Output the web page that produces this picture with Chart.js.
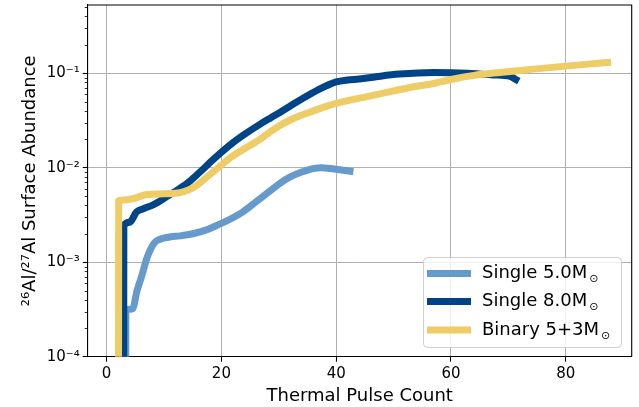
<!DOCTYPE html>
<html lang="en">
<head>
<meta charset="UTF-8">
<title>26Al/27Al surface abundance</title>
<script src="https://cdn.jsdelivr.net/npm/chart.js"></script>
<style>
  html, body { margin: 0; padding: 0; background: #fff; }
  #wrap { width: 639px; height: 407px; position: relative; }
</style>
</head>
<body>
<div id="wrap"><canvas id="grafico"></canvas></div>
<script>
// surface 26Al/27Al against thermal pulse number, one pair of arrays per model
const single5X = [3.3, 3.35, 4.5, 5.3, 6.1, 7.0, 7.6, 8.3, 9.3, 11.0, 12.8, 15.0, 17.4, 19.5, 21.5, 24.0, 26.1, 28.0, 30.2, 32.0, 34.0, 36.0, 37.5, 39.0, 42.4];
const single5Y = [1e-6, 3.1e-4, 3.2e-4, 5.0e-4, 7.1e-4, 1.1e-3, 1.35e-3, 1.6e-3, 1.75e-3, 1.85e-3, 1.9e-3, 2.0e-3, 2.2e-3, 2.5e-3, 2.85e-3, 3.5e-3, 4.4e-3, 5.4e-3, 6.85e-3, 8.0e-3, 9.0e-3, 9.8e-3, 1.0e-2, 9.8e-3, 9.2e-3];

const single8X = [2.95, 3.0, 4.0, 5.2, 6.5, 8.1, 10.5, 12.5, 14.5, 16.5, 18.5, 21.5, 24.0, 26.7, 28.5, 30.2, 33.7, 37.0, 40.0, 42.0, 44.0, 47.0, 51.0, 57.0, 63.0, 67.3, 70.3, 71.3];
const single8Y = [1e-6, 2.45e-3, 2.65e-3, 3.4e-3, 3.7e-3, 4.05e-3, 4.95e-3, 5.9e-3, 7.2e-3, 9.3e-3, 1.21e-2, 1.74e-2, 2.25e-2, 2.88e-2, 3.35e-2, 3.85e-2, 5.2e-2, 6.75e-2, 8.1e-2, 8.5e-2, 8.7e-2, 9.2e-2, 9.8e-2, 1.02e-1, 1.0e-1, 9.6e-2, 9.3e-2, 8.6e-2];

const binaryX = [2.05, 2.1, 3.0, 4.5, 7.0, 10.0, 12.8, 14.5, 15.7, 17.5, 19.7, 21.5, 23.8, 26.7, 28.5, 30.2, 32.0, 33.7, 37.0, 40.0, 45.0, 50.0, 54.0, 57.0, 60.0, 64.0, 68.5, 74.0, 80.0, 84.0, 87.3];
const binaryY = [1e-6, 4.5e-3, 4.55e-3, 4.7e-3, 5.2e-3, 5.3e-3, 5.45e-3, 5.9e-3, 6.5e-3, 8.0e-3, 1.03e-2, 1.27e-2, 1.56e-2, 2.0e-2, 2.4e-2, 2.8e-2, 3.2e-2, 3.55e-2, 4.2e-2, 4.8e-2, 5.6e-2, 6.5e-2, 7.3e-2, 7.8e-2, 8.6e-2, 9.5e-2, 1.02e-1, 1.1e-1, 1.19e-1, 1.25e-1, 1.3e-1];

const seriesNames = ['Single 5.0M', 'Single 8.0M', 'Binary 5+3M'];
const seriesColors = ['#6699CC', '#004488', '#EECC66'];

const xTicks = [0, 20, 40, 60, 80];
const yTicks = [1e-4, 1e-3, 1e-2, 1e-1];
const yTickLabels = ['10⁻⁴', '10⁻³', '10⁻²', '10⁻¹'];

const FONT = '"DejaVu Sans", "Liberation Sans", sans-serif';

function toPoints(xs, ys) {
  return xs.map((x, i) => ({ x: x, y: ys[i] }));
}

// minor log ticks, the top/right frame and the legend box
const extras = {
  id: 'extras',
  afterDraw(chart) {
    const ctx = chart.ctx;
    const a = chart.chartArea;
    const y = chart.scales.y;
    ctx.save();

    ctx.strokeStyle = '#000';
    ctx.lineWidth = 0.8;
    for (let d = -4; d <= -1; d++) {
      for (let m = 2; m <= 9; m++) {
        const v = m * Math.pow(10, d);
        if (v > y.max) break;
        const py = Math.round(y.getPixelForValue(v)) + 0.5;
        ctx.beginPath();
        ctx.moveTo(a.left, py);
        ctx.lineTo(a.left - 3, py);
        ctx.stroke();
      }
    }

    ctx.lineWidth = 1.1;
    ctx.beginPath();
    ctx.moveTo(a.left, a.top);
    ctx.lineTo(a.right, a.top);
    ctx.lineTo(a.right, a.bottom);
    ctx.stroke();

    // legend, lower right
    const bx = 423.5, by = 257.5, bw = 198, bh = 90;
    ctx.beginPath();
    ctx.roundRect(bx, by, bw, bh, 4);
    ctx.fillStyle = 'rgba(255,255,255,0.8)';
    ctx.fill();
    ctx.strokeStyle = '#d0d0d0';
    ctx.lineWidth = 1;
    ctx.stroke();

    const rows = [273.5, 301.5, 330];
    seriesNames.forEach((name, i) => {
      const ry = rows[i];
      ctx.strokeStyle = seriesColors[i];
      ctx.lineWidth = 7;
      ctx.lineCap = 'butt';
      ctx.beginPath();
      ctx.moveTo(427, ry);
      ctx.lineTo(471, ry);
      ctx.stroke();

      ctx.fillStyle = '#000';
      ctx.textBaseline = 'middle';
      ctx.textAlign = 'left';
      ctx.font = '18px ' + FONT;
      ctx.fillText(name, 482, ry);
      const w = ctx.measureText(name).width;
      ctx.font = '11px ' + FONT;
      ctx.fillText('⊙', 482 + w + 2, ry + 6);
    });

    ctx.restore();
  }
};

const ctx = document.getElementById('grafico').getContext('2d');
const grafico = new Chart(ctx, {
  type: 'line',
  data: {
    datasets: [
      { label: seriesNames[0], data: toPoints(single5X, single5Y), borderColor: seriesColors[0], order: 3 },
      { label: seriesNames[1], data: toPoints(single8X, single8Y), borderColor: seriesColors[1], order: 2 },
      { label: seriesNames[2], data: toPoints(binaryX, binaryY), borderColor: seriesColors[2], order: 1 }
    ]
  },
  options: {
    responsive: true,
    maintainAspectRatio: false,
    animation: false,
    layout: { padding: { top: 5, right: 7.3, left: 0, bottom: 0 } },
    datasets: {
      line: {
        borderWidth: 7,
        pointRadius: 0,
        fill: false,
        clip: 0,
        cubicInterpolationMode: 'monotone',
        borderCapStyle: 'square',
        borderJoinStyle: 'round'
      }
    },
    plugins: {
      legend: { display: false },
      tooltip: { enabled: false }
    },
    scales: {
      x: {
        type: 'linear',
        min: -3.3,
        max: 91.5,
        afterBuildTicks: s => { s.ticks = xTicks.map(v => ({ value: v })); },
        afterFit: s => { s.height = 50.3; s.paddingLeft = 0; s.paddingRight = 0; },
        grid: { color: '#b0b0b0', lineWidth: 1, tickColor: '#000', tickLength: 5, tickWidth: 1.1 },
        border: { color: '#000', width: 1.1 },
        ticks: { color: '#000', font: { family: FONT, size: 15 }, padding: 3, maxRotation: 0 },
        title: { display: true, text: 'Thermal Pulse Count', color: '#000', font: { family: FONT, size: 18 }, padding: { top: 0, bottom: 0 } }
      },
      y: {
        type: 'logarithmic',
        min: 1e-4,
        max: 0.528,
        afterBuildTicks: s => { s.ticks = yTicks.map(v => ({ value: v })); },
        afterFit: s => { s.width = 87.7; s.paddingTop = 0; s.paddingBottom = 0; },
        grid: { color: '#b0b0b0', lineWidth: 1, tickColor: '#000', tickLength: 5, tickWidth: 1.1 },
        border: { color: '#000', width: 1.1 },
        ticks: {
          color: '#000',
          font: { family: FONT, size: 15 },
          padding: 3,
          callback: v => yTickLabels[yTicks.findIndex(t => Math.abs(Math.log10(t) - Math.log10(v)) < 1e-6)]
        },
        title: { display: true, text: '²⁶Al/²⁷Al Surface Abundance', color: '#000', font: { family: FONT, size: 18 }, padding: { top: 20, bottom: 0 } }
      }
    }
  },
  plugins: [extras]
});
</script>
</body>
</html>
